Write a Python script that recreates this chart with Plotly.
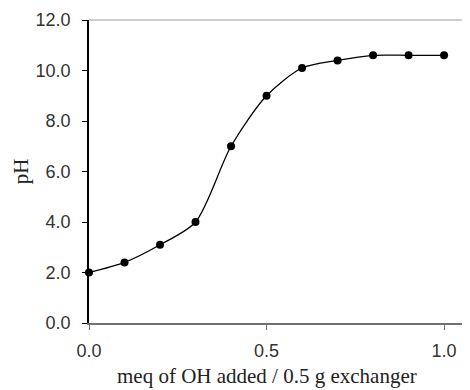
import plotly.graph_objects as go

meq_oh = [0.0, 0.1, 0.2, 0.3, 0.4, 0.5, 0.6, 0.7, 0.8, 0.9, 1.0]
ph_values = [2.0, 2.4, 3.1, 4.0, 7.0, 9.0, 10.1, 10.4, 10.6, 10.6, 10.6]
x_ticks = [0.0, 0.5, 1.0]
x_tick_labels = ["0.0", "0.5", "1.0"]
y_ticks = [0, 2, 4, 6, 8, 10, 12]
y_tick_labels = ["0.0", "2.0", "4.0", "6.0", "8.0", "10.0", "12.0"]
x_title = "meq of OH added / 0.5 g exchanger"
y_title = "pH"

fig = go.Figure()
fig.add_trace(go.Scatter(
    x=meq_oh, y=ph_values, mode="lines+markers",
    line=dict(color="black", width=1.3, shape="spline", smoothing=0.8),
    marker=dict(color="black", size=8),
    showlegend=False, cliponaxis=False,
))

fig.add_shape(type="line", xref="paper", yref="paper", x0=0, x1=1, y0=1, y1=1,
              line=dict(color="#bdbdbd", width=1.5), layer="above")

serif = "Liberation Serif, Times New Roman, serif"
fig.add_annotation(
    text=x_title, xref="x", x=0.5, yref="paper", y=0, yanchor="bottom",
    yshift=-67, showarrow=False,
    font=dict(family=serif, size=21, color="#222"),
)

fig.update_layout(
    width=462, height=382,
    margin=dict(l=81, r=0, t=12, b=67, autoexpand=False),
    paper_bgcolor="white", plot_bgcolor="white",
    font=dict(family="Liberation Sans, Arial", size=18, color="#333"),
    xaxis=dict(
        range=[0, 1.073], tickvals=x_ticks, ticktext=x_tick_labels,
        showgrid=False, zeroline=False, showline=True, linecolor="#707070", linewidth=1.5,
        ticks="outside", ticklen=5, tickcolor="#707070", tickwidth=1,
        ticklabelstandoff=6, automargin=False,
    ),
    yaxis=dict(
        range=[0, 12], tickvals=y_ticks, ticktext=y_tick_labels,
        showgrid=False, zeroline=False, showline=True, linecolor="black", linewidth=1.5,
        ticks="outside", ticklen=5, tickcolor="black", tickwidth=1,
        ticklabelstandoff=8, automargin=False,
        title=dict(text=y_title,
                   font=dict(family=serif, size=21, color="#222"),
                   standoff=1),
    ),
)

fig.write_html("out.html")
